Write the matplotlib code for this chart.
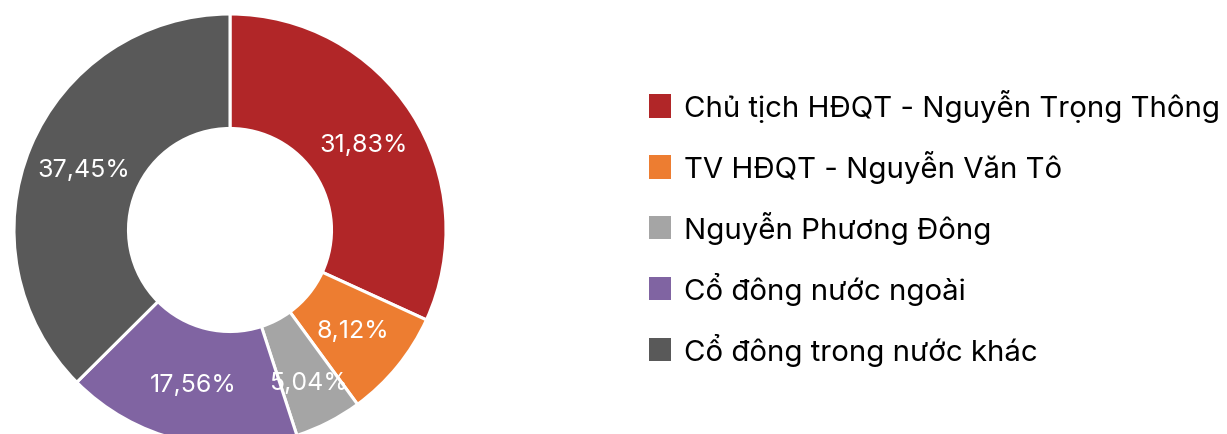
import matplotlib
matplotlib.use("Agg")
import matplotlib.pyplot as plt
from matplotlib.patches import Patch

plt.rcParams['font.family'] = ['Inter', 'DejaVu Sans']

labels = ["Chủ tịch HĐQT - Nguyễn Trọng Thông", "TV HĐQT - Nguyễn Văn Tô",
          "Nguyễn Phương Đông", "Cổ đông nước ngoài", "Cổ đông trong nước khác"]
values = [31.83, 8.12, 5.04, 17.56, 37.45]
colors = ["#B12628", "#ED7D31", "#A5A5A5", "#8064A2", "#595959"]

W, H = 1227, 435
fig = plt.figure(figsize=(W / 100, H / 100), dpi=100)
cx, cy, R = 230, 231, 216
ax = fig.add_axes([(cx - R) / W, (H - cy - R) / H, 2 * R / W, 2 * R / H])

wedges, texts, autotexts = ax.pie(
    values, colors=colors, startangle=90, counterclock=False,
    radius=1.0, pctdistance=0.735,
    autopct=lambda p: f"{p:.2f}%".replace('.', ','),
    wedgeprops=dict(width=0.53, edgecolor='white', linewidth=2.2),
    textprops=dict(color='white', fontsize=18))
# nudge the small slice label outwards
x, y = autotexts[2].get_position()
autotexts[2].set_position((x * 1.08, y * 1.08))
ax.set_xlim(-1, 1)
ax.set_ylim(-1, 1)
ax.set_aspect('equal')
ax.axis('off')

handles = [Patch(facecolor=c, edgecolor='none') for c in colors]
fig.legend(handles, labels, loc='upper left', bbox_to_anchor=(649 / W, 1 - 90 / H),
           frameon=False, fontsize=21.2, handlelength=0.75, handleheight=0.85,
           handletextpad=0.45, labelspacing=0.95, borderaxespad=0, borderpad=0)

fig.savefig("out.png", dpi=100)
